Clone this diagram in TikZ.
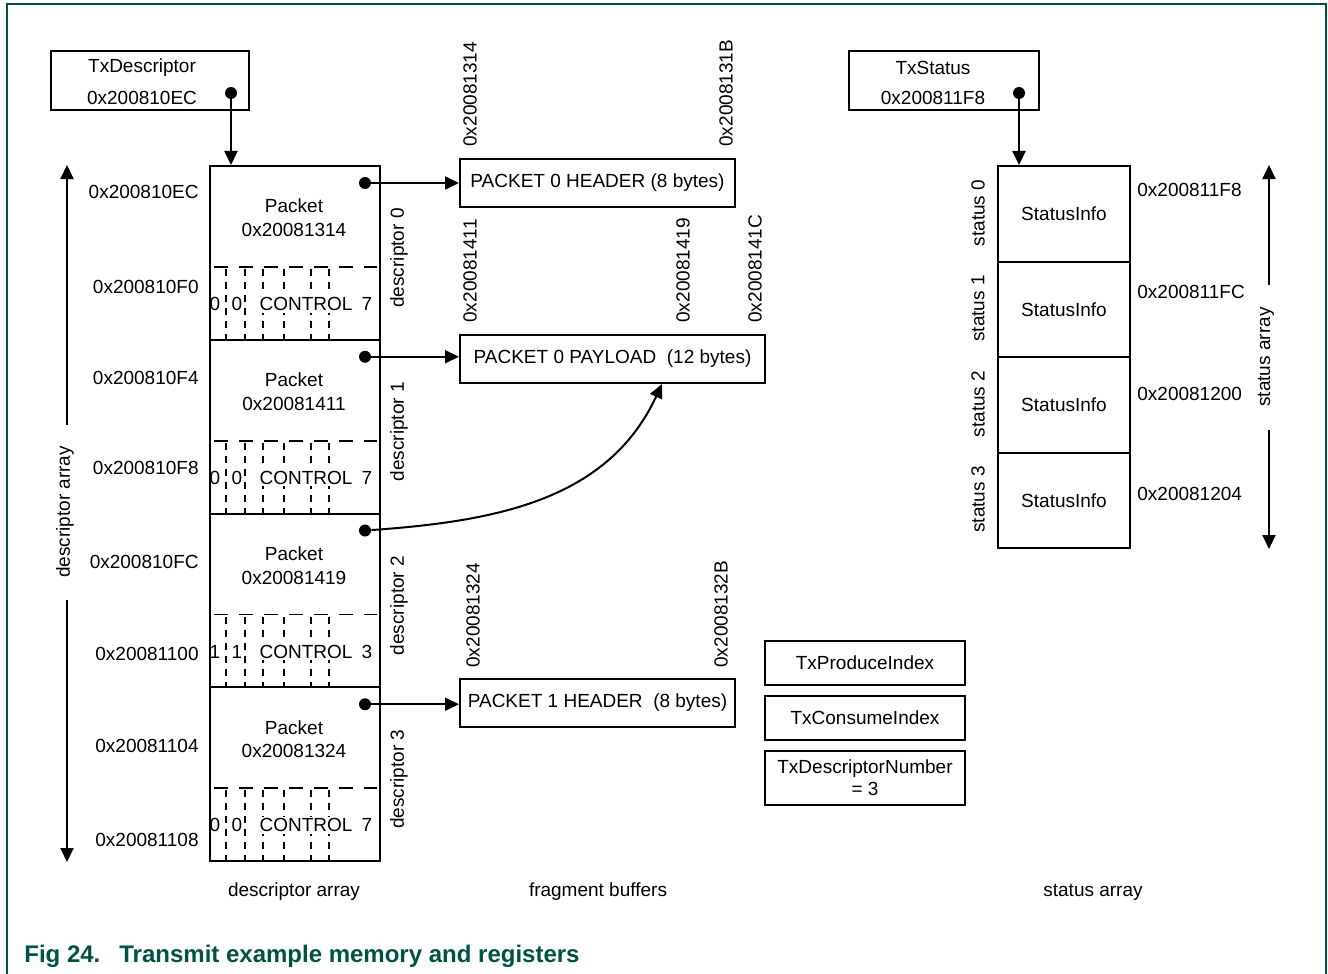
\documentclass[tikz,border=0pt]{standalone}
\usepackage{fontspec}
\setmainfont{Liberation Sans}
\usetikzlibrary{arrows.meta}
\definecolor{figgreen}{RGB}{0,82,68}
\tikzset{
  box/.style={draw,line width=1pt,inner sep=0pt},
  arr/.style={line width=1pt,-{Triangle[length=7pt,width=6.5pt]}},
  dot/.style={circle,fill,inner sep=0pt,minimum size=6pt},
  hdash/.style={line width=0.8pt,dash pattern=on 7pt off 5.5pt},
  vdash/.style={line width=0.8pt,dash pattern=on 3.5pt off 3pt},
  addr/.style={inner sep=0pt},
}
\begin{document}
\begin{tikzpicture}[x=0.5pt,y=-0.5pt,font=\fontsize{9.5}{11}\selectfont]
\useasboundingbox (0,0) rectangle (1328,974);
\draw[figgreen,line width=1pt] (7,974)--(7,4)--(1326,4)--(1326,974);

\node[box,minimum width=99pt,minimum height=29.5pt] (txdesc) at (150,80.5) {};
\node at (142,68) {TxDescriptor};
\node at (142,98) {0x200810EC};
\node[dot] (txdescp) at (231,93) {};

\foreach \i/\a/\b/\c/\n in {0/0/0/7/20081314,1/0/0/7/20081411,2/1/1/3/20081419,3/0/0/7/20081324} {
  \pgfmathsetmacro\t{165+173.75*\i}
  \node[box,minimum width=85pt,minimum height=86.875pt,anchor=north west] (d\i) at (209,\t) {};
  \node at (294,\t+41) {Packet};
  \node at (294,\t+65) {0x\n};
  \draw[hdash] (214,\t+102) -- (377,\t+102);
  \foreach \x in {226,245,263,284,311,329}
    \draw[vdash] (\x,\t+104) -- (\x,\t+173.75);
  \node at (215,\t+139) {\a};
  \node at (237,\t+139) {\b};
  \node[fill=white,inner sep=1pt] at (306,\t+139) {CONTROL};
  \node at (367,\t+139) {\c};
  \node[dot] (p\i) at (365,\t+18) {};
  \node[rotate=90] at (399,\t+93) {descriptor \i};
}
\draw[arr] (txdescp) -- (txdescp |- d0.north);

\foreach \y/\n in {192/200810EC,287/200810F0,378/200810F4,468/200810F8,562/200810FC,654/20081100,746/20081104,840/20081108}
  \node[addr,anchor=east] at (199,\y) {0x\n};

\node[rotate=90] at (65,512) {descriptor array};
\coordinate (da1) at (67,425);
\coordinate (da2) at (67,600);
\draw[arr] (da1) -- (da1 |- d0.north);
\draw[arr] (da2) -- (da2 |- d3.south);

\node[box,minimum width=137.5pt,minimum height=24pt] (hd0) at (597.5,183) {PACKET 0 HEADER (8 bytes)};
\node[box,minimum width=152.5pt,minimum height=24pt] (pl0) at (612.5,359) {PACKET 0 PAYLOAD\ \ (12 bytes)};
\node[box,minimum width=137.5pt,minimum height=24pt] (hd1) at (597.5,703) {PACKET 1 HEADER\ \ (8 bytes)};

\node[addr,rotate=90,anchor=west] at (470,147) {0x20081314};
\node[addr,rotate=90,anchor=west] at (726,147) {0x2008131B};
\node[addr,rotate=90,anchor=west] at (470,323) {0x20081411};
\node[addr,rotate=90,anchor=west] at (683,323) {0x20081419};
\node[addr,rotate=90,anchor=west] at (755,323) {0x2008141C};
\node[addr,rotate=90,anchor=west] at (473,668) {0x20081324};
\node[addr,rotate=90,anchor=west] at (721,668) {0x2008132B};

\draw[arr] (p0) -- (p0 -| hd0.west);
\draw[arr] (p1) -- (p1 -| pl0.west);
\draw[arr] (p2) to[out=4,in=-115] ([xshift=24.75pt]pl0.south);
\draw[arr] (p3) -- (p3 -| hd1.west);

\node[box,minimum width=100pt,minimum height=22pt] (prod) at (865,663) {TxProduceIndex};
\node[box,minimum width=100pt,minimum height=22pt] (cons) at (865,718) {TxConsumeIndex};
\node[box,minimum width=100pt,minimum height=27pt,align=center] (dnum) at (865,778) {TxDescriptorNumber\\= 3};

\node[box,minimum width=95pt,minimum height=29.5pt] (txstat) at (944,80.5) {};
\node at (933,68) {TxStatus};
\node at (933,98) {0x200811F8};
\node[dot] (txstatp) at (1019,93) {};

\foreach \i/\y/\n in {0/190/200811F8,1/292/200811FC,2/394/20081200,3/494/20081204} {
  \pgfmathsetmacro\t{165+95.5*\i}
  \node[box,minimum width=66pt,minimum height=47.75pt,anchor=north west] (s\i) at (997,\t) {StatusInfo};
  \node[rotate=90] at (978,\t+48) {status \i};
  \node[addr,anchor=west] at (1137,\y) {0x\n};
}
\draw[arr] (txstatp) -- (txstatp |- s0.north);

\node[rotate=90] at (1266,357) {status array};
\coordinate (sa1) at (1269,285);
\coordinate (sa2) at (1269,430);
\draw[arr] (sa1) -- (sa1 |- s0.north);
\draw[arr] (sa2) -- (sa2 |- s3.south);

\node at (294,892) {descriptor array};
\node at (598,892) {fragment buffers};
\node at (1093,892) {status array};

\node[addr,anchor=base west,text=figgreen,font=\bfseries\fontsize{12}{14}\selectfont] at (24,962) {Fig 24.};
\node[addr,anchor=base west,text=figgreen,font=\bfseries\fontsize{12}{14}\selectfont] at (119,962) {Transmit example memory and registers};
\end{tikzpicture}
\end{document}
